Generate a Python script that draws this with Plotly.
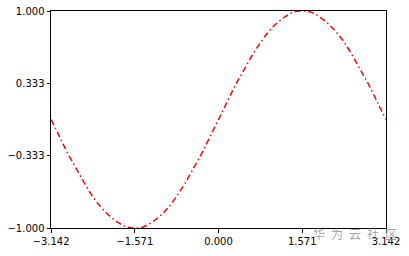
import plotly.graph_objects as go

x_vals = [-3.14, -2.98, -2.83, -2.67, -2.51, -2.36, -2.20, -2.04, -1.88, -1.73,
          -1.57, -1.41, -1.26, -1.10, -0.94, -0.79, -0.63, -0.47, -0.31, -0.16,
          0.00, 0.16, 0.31, 0.47, 0.63, 0.79, 0.94, 1.10, 1.26, 1.41,
          1.57, 1.73, 1.88, 2.04, 2.20, 2.36, 2.51, 2.67, 2.83, 2.98, 3.14]
y_vals = [0.00, -0.16, -0.31, -0.45, -0.59, -0.71, -0.81, -0.89, -0.95, -0.99,
          -1.00, -0.99, -0.95, -0.89, -0.81, -0.71, -0.59, -0.45, -0.31, -0.16,
          0.00, 0.16, 0.31, 0.45, 0.59, 0.71, 0.81, 0.89, 0.95, 0.99,
          1.00, 0.99, 0.95, 0.89, 0.81, 0.71, 0.59, 0.45, 0.31, 0.16, 0.00]

x_ticks = [-3.142, -1.571, 0.0, 1.571, 3.142]
x_tick_text = ["\u22123.142", "\u22121.571", "0.000", "1.571", "3.142"]
y_ticks = [-1.0, -0.333, 0.333, 1.0]
y_tick_text = ["\u22121.000", "\u22120.333", "0.333", "1.000"]
watermark = "华\u2002为\u2002云\u2002社\u2002区"

fig = go.Figure()
fig.add_trace(go.Scatter(
    x=x_vals, y=y_vals, mode="lines",
    line=dict(color="#ff0000", width=1.5, dash="6px,3px,1.5px,3px", shape="spline"),
    showlegend=False,
))

axis_common = dict(
    showline=True, linecolor="black", linewidth=1, mirror=True,
    ticks="outside", ticklen=3.5, tickwidth=1, tickcolor="black",
    showgrid=False, zeroline=False, automargin=False,
    tickfont=dict(family="DejaVu Sans", size=10, color="black"),
)
fig.update_xaxes(range=[-3.142, 3.142], tickmode="array", tickvals=x_ticks,
                 ticktext=x_tick_text, **axis_common)
fig.update_yaxes(range=[-1.0, 1.0], tickmode="array", tickvals=y_ticks,
                 ticktext=y_tick_text, **axis_common)

fig.add_annotation(
    text=watermark, xref="paper", yref="paper", x=1.038, y=-0.025,
    xanchor="right", yanchor="middle", showarrow=False,
    font=dict(family="Noto Sans CJK SC", size=12, color="rgba(140,140,140,0.8)"),
)

fig.update_layout(
    width=409, height=256,
    margin=dict(l=51, r=23, t=11, b=28),
    paper_bgcolor="white", plot_bgcolor="white",
)
fig.write_html("out.html")
